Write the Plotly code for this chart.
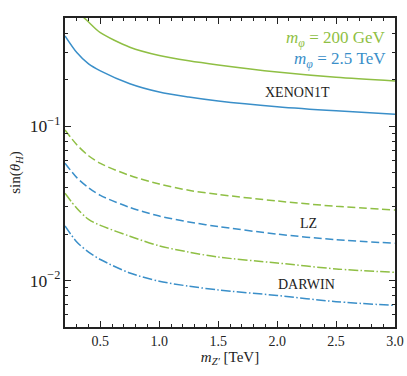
import math
import plotly.graph_objects as go

# Z' mass grid (TeV)
m_zp = [0.2, 0.3, 0.4, 0.5, 0.75, 1.0, 1.25, 1.5, 2.0, 2.5, 3.0]

# sin(theta_H) limits
xenon_200gev = [0.68, 0.56, 0.475, 0.405, 0.326, 0.288, 0.266, 0.250, 0.225, 0.208, 0.197]
xenon_2p5tev = [0.386, 0.301, 0.254, 0.229, 0.189, 0.167, 0.155, 0.146, 0.134, 0.126, 0.120]
lz_200gev = [0.0948, 0.0760, 0.0645, 0.0575, 0.0480, 0.0423, 0.0385, 0.0362, 0.0328, 0.0303, 0.0287]
lz_2p5tev = [0.0577, 0.0465, 0.0400, 0.0357, 0.0298, 0.0262, 0.0240, 0.0224, 0.0200, 0.0184, 0.01745]
darwin_200gev = [0.0368, 0.0294, 0.0249, 0.0228, 0.0194, 0.0168, 0.0153, 0.0142, 0.0130, 0.0119, 0.0113]
darwin_2p5tev = [0.0226, 0.0178, 0.0153, 0.0137, 0.0112, 0.0099, 0.0092, 0.0087, 0.0080, 0.0073, 0.0069]

GREEN = '#8fbf44'
BLUE = '#3a8fc9'
FONT = 'Liberation Serif'
DASH = '8px,3.6px'
DASHDOT = '9.6px,2.4px,1.5px,2.4px'

series = [
    (xenon_200gev, GREEN, 'solid'),
    (xenon_2p5tev, BLUE, 'solid'),
    (lz_200gev, GREEN, DASH),
    (lz_2p5tev, BLUE, DASH),
    (darwin_200gev, GREEN, DASHDOT),
    (darwin_2p5tev, BLUE, DASHDOT),
]

fig = go.Figure()
for ys, color, dash in series:
    fig.add_trace(go.Scatter(x=m_zp, y=ys, mode='lines', showlegend=False, hoverinfo='skip',
                             line=dict(color=color, width=1.5, dash=dash, shape='spline', smoothing=0.8)))

# detector labels
for txt, x, y in [('XENON1T', 2.17, 0.167), ('LZ', 2.27, 0.0233), ('DARWIN', 2.25, 0.0095)]:
    fig.add_annotation(x=x, y=math.log10(y), text=txt, showarrow=False,
                       font=dict(family=FONT, size=14, color='#222'))

# mass labels
fig.add_annotation(xref='paper', yref='paper', x=0.98, y=0.932, xanchor='right', yanchor='middle',
                   text='<i>m</i><sub><i>φ</i></sub> = 200 GeV', showarrow=False,
                   font=dict(family=FONT, size=17, color=GREEN))
fig.add_annotation(xref='paper', yref='paper', x=0.98, y=0.864, xanchor='right', yanchor='middle',
                   text='<i>m</i><sub><i>φ</i></sub> = 2.5 TeV', showarrow=False,
                   font=dict(family=FONT, size=17, color=BLUE))

fig.update_xaxes(range=[0.2, 3.0], showgrid=False, zeroline=False, automargin=False,
                 showline=True, linecolor='#222', linewidth=1.8, mirror='allticks',
                 ticks='inside', ticklen=6, tickcolor='#222', tickwidth=1.3,
                 tick0=0, dtick=0.5, tickformat='.1f',
                 minor=dict(ticks='inside', ticklen=3.5, tickcolor='#222', tickwidth=1, dtick=0.1, showgrid=False),
                 tickfont=dict(family=FONT, size=14, color='#222'),
                 title=dict(text='<i>m</i><sub><i>Z′</i></sub> [TeV]', standoff=4,
                            font=dict(family=FONT, size=15, color='#222')))
fig.update_yaxes(type='log', range=[-2.301, -0.2975], showgrid=False, zeroline=False, automargin=False,
                 showline=True, linecolor='#222', linewidth=1.8, mirror='allticks',
                 ticks='inside', ticklen=6, tickcolor='#222', tickwidth=1.3,
                 dtick=1, exponentformat='power',
                 minor=dict(ticks='inside', ticklen=3.5, tickcolor='#222', tickwidth=1, dtick='D1', showgrid=False),
                 tickfont=dict(family=FONT, size=14, color='#222'),
                 title=dict(text='sin(<i>θ</i><sub><i>H</i></sub>)', standoff=6,
                            font=dict(family=FONT, size=15, color='#222')))

fig.update_layout(width=407, height=376, plot_bgcolor='white', paper_bgcolor='white',
                  margin=dict(l=65, r=12, t=18, b=49))

fig.write_html("out.html", config={'displayModeBar': False},
               post_script="document.body.style.margin='0';")
